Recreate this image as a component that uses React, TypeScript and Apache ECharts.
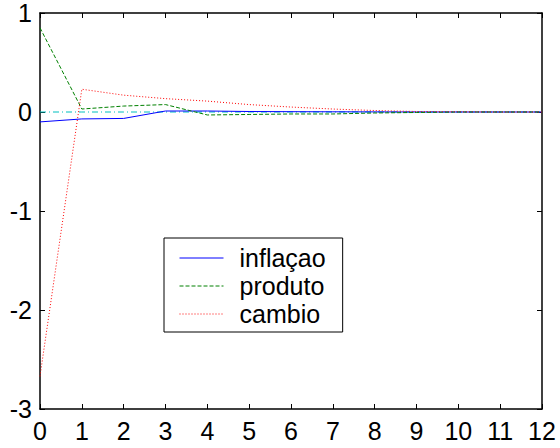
import React, { useEffect, useRef } from "react";
import * as echarts from "echarts";

const periods = [0, 1, 2, 3, 4, 5, 6, 7, 8, 9, 10, 11, 12];
const inflacao = [-0.1, -0.07, -0.065, 0.01, 0.01, 0.005, 0.003, 0.002, 0.001, 0, 0, 0, 0];
const produto = [0.85, 0.03, 0.06, 0.075, -0.03, -0.025, -0.02, -0.02, -0.01, -0.005, 0, 0, 0];
const cambio = [-2.67, 0.23, 0.17, 0.135, 0.11, 0.075, 0.05, 0.03, 0.015, 0.005, 0.002, 0, 0];
const zeroLine = [0, 0, 0, 0, 0, 0, 0, 0, 0, 0, 0, 0, 0];

const pairs = (ys: number[]) => periods.map((x, i) => [x, ys[i]]);

export default function App() {
  const ref = useRef<HTMLDivElement>(null);
  useEffect(() => {
    if (!ref.current) return;
    const chart = echarts.init(ref.current, undefined, { renderer: "svg" });
    const font = "'Liberation Sans', Arial, sans-serif";
    const axisCommon = {
      axisLine: { show: true, onZero: false, lineStyle: { color: "#000", width: 1.5 } },
      axisTick: { show: true, inside: true, length: 5, lineStyle: { color: "#000", width: 1 } },
      splitLine: { show: false },
    };
    chart.setOption({
      animation: false,
      backgroundColor: "#fff",
      grid: { left: 40, right: 18, top: 13, bottom: 39, containLabel: false },
      xAxis: [
        {
          type: "value", min: 0, max: 12, interval: 1, position: "bottom",
          ...axisCommon,
          axisLabel: { color: "#000", fontSize: 25, fontFamily: font, margin: 9 },
        },
        {
          type: "value", min: 0, max: 12, interval: 1, position: "top",
          ...axisCommon, axisLabel: { show: false },
        },
      ],
      yAxis: [
        {
          type: "value", min: -3, max: 1, interval: 1, position: "left",
          ...axisCommon,
          axisLabel: { color: "#000", fontSize: 25, fontFamily: font, margin: 8 },
        },
        {
          type: "value", min: -3, max: 1, interval: 1, position: "right",
          ...axisCommon, axisLabel: { show: false },
        },
      ],
      legend: {
        orient: "vertical",
        left: 164,
        top: 238,
        data: ["inflaçao", "produto", "cambio"],
        borderColor: "#000",
        borderWidth: 1,
        padding: [6, 17, 4, 15],
        itemWidth: 44,
        itemHeight: 14,
        itemGap: 0,
        itemStyle: { opacity: 0 },
        lineStyle: { width: 1 },
        textStyle: { color: "#000", fontSize: 25, lineHeight: 28, fontFamily: font, padding: [0, 0, 0, 11] },
        backgroundColor: "#fff",
      },
      series: [
        {
          name: "zero", type: "line", data: pairs(zeroLine), symbol: "none",
          lineStyle: { color: "#00bfbf", width: 1, type: [6, 3, 1, 3] }, z: 1,
        },
        {
          name: "inflaçao", type: "line", data: pairs(inflacao), symbol: "none",
          itemStyle: { color: "#0000ff" },
          lineStyle: { color: "#0000ff", width: 1, type: "solid" }, z: 3,
        },
        {
          name: "produto", type: "line", data: pairs(produto), symbol: "none",
          itemStyle: { color: "#008000" },
          lineStyle: { color: "#008000", width: 1, type: [4, 2] }, z: 3,
        },
        {
          name: "cambio", type: "line", data: pairs(cambio), symbol: "none",
          itemStyle: { color: "#ff0000" },
          lineStyle: { color: "#ff0000", width: 1, type: [1, 2] }, z: 3,
        },
      ],
    });
    return () => chart.dispose();
  }, []);
  return <div ref={ref} style={{ width: 560, height: 448, position: "absolute", left: 0, top: 0 }} />;
}
